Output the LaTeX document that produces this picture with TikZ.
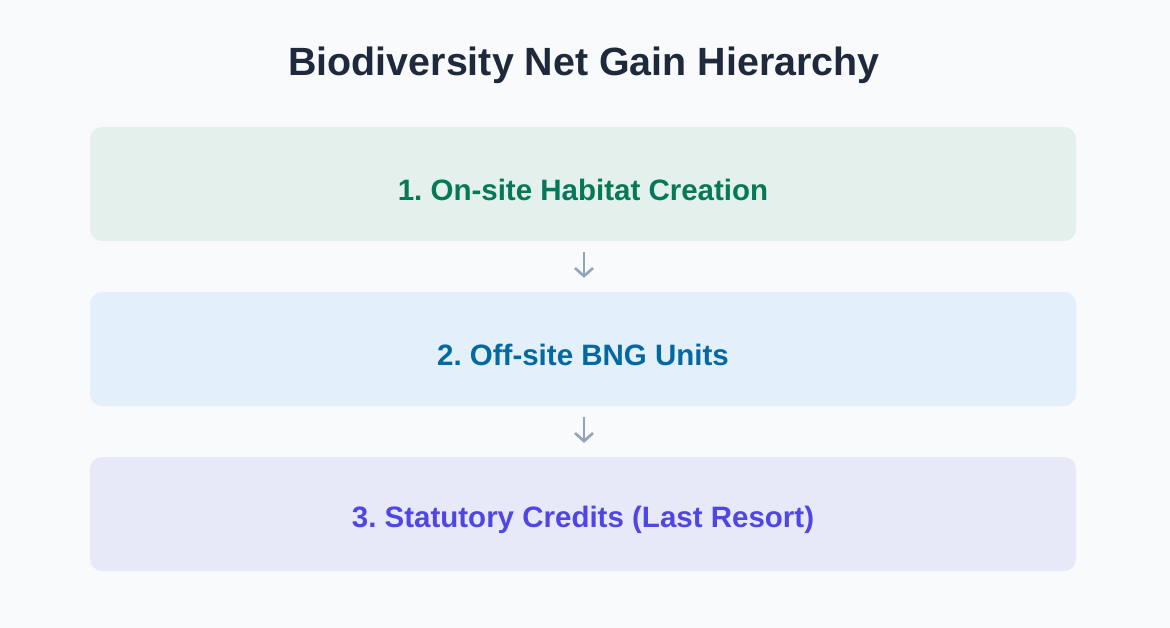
\documentclass[tikz,border=0pt]{standalone}
\usepackage{fontspec}
\setmainfont{Liberation Sans}
\usetikzlibrary{arrows.meta}
\frenchspacing
\definecolor{bgc}{HTML}{F8FAFC}
\definecolor{titlec}{HTML}{1E293B}
\definecolor{fillA}{HTML}{E3F0EC}
\definecolor{textA}{HTML}{047857}
\definecolor{fillB}{HTML}{E3EFF9}
\definecolor{textB}{HTML}{0369A1}
\definecolor{fillC}{HTML}{E8E9F8}
\definecolor{textC}{HTML}{4F46E5}
\definecolor{arrc}{HTML}{94A3B8}
\begin{document}
\begin{tikzpicture}[x=1pt,y=-1pt,
  tier/.style={rounded corners=12pt, minimum width=986pt, minimum height=114pt, inner sep=0pt},
  lbl/.style={font=\fontsize{29.5}{33}\selectfont\bfseries, inner sep=0pt},
  flow/.style={draw=arrc, line width=2.6pt, -{Straight Barb[length=8pt,width=18pt,line width=2.6pt]}}]
\fill[bgc] (0,0) rectangle (1170,628);
\useasboundingbox (0,0) rectangle (1170,628);
\node[font=\fontsize{39.4}{44}\selectfont\bfseries, text=titlec] (title) at (584,65) {Biodiversity Net Gain Hierarchy};
\node[tier, fill=fillA] (t1) at (583,184) {};
\node[tier, fill=fillB] (t2) at (583,349) {};
\node[tier, fill=fillC] (t3) at (583,514) {};
\node[lbl, text=textA] (l1) at ([yshift=-6pt]t1.center) {1. On-site Habitat Creation};
\node[lbl, text=textB] (l2) at ([yshift=-6pt]t2.center) {2. Off-site BNG Units};
\node[lbl, text=textC] (l3) at ([yshift=-6pt]t3.center) {3. Statutory Credits (Last Resort)};
\draw[flow] ([yshift=-11pt]t1.south -| 584,0) -- ([yshift=14pt]t2.north -| 584,0);
\draw[flow] ([yshift=-11pt]t2.south -| 584,0) -- ([yshift=14pt]t3.north -| 584,0);
\end{tikzpicture}
\end{document}
